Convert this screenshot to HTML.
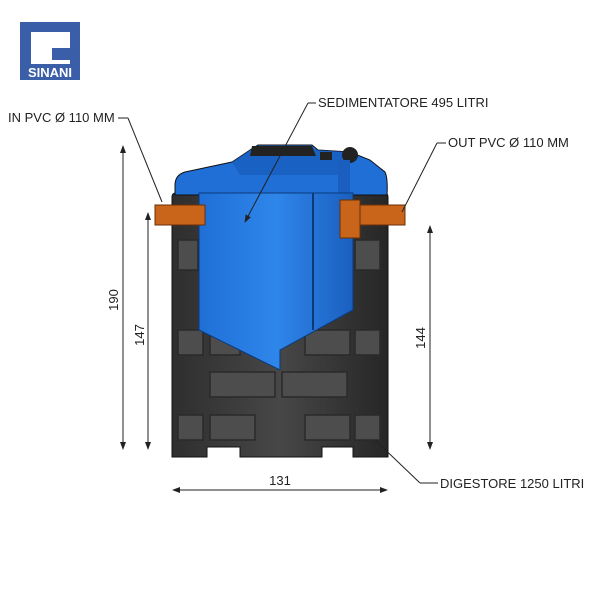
<!DOCTYPE html><html><head><style>body{margin:0;background:#fff}svg{display:block}text{font-family:"Liberation Sans",sans-serif;font-size:13px;fill:#222}</style></head><body>
<svg width="600" height="600" viewBox="0 0 600 600">
<defs>
<linearGradient id="g" x1="0" x2="1"><stop offset="0" stop-color="#2e2e2e"/><stop offset=".5" stop-color="#474747"/><stop offset="1" stop-color="#262626"/></linearGradient>
<linearGradient id="b" x1="0" x2="1"><stop offset="0" stop-color="#1f6fd6"/><stop offset=".5" stop-color="#2f86ea"/><stop offset="1" stop-color="#1a5fc0"/></linearGradient>
<marker id="a" markerWidth="8" markerHeight="8" refX="7" refY="4" orient="auto-start-reverse"><path d="M0,1 L8,4 L0,7 z" fill="#222"/></marker>
</defs>
<rect x="20" y="22" width="60" height="58" fill="#3a5ea8"/>
<path d="M31,32 H70 V48 H52 V60 H70 V64 H31 z" fill="#fff"/>
<rect x="52" y="48" width="18" height="12" fill="#3a5ea8"/>
<text x="50" y="77" text-anchor="middle" style="font-size:13px;font-weight:bold;fill:#fff">SINANI</text>
<path d="M172,197 Q172,193 176,193 H384 Q388,193 388,197 V457 H353 V447 H322 V457 H240 V447 H207 V457 H172 z" fill="url(#g)" stroke="#111"/>
<g fill="#4d4d4d" stroke="#2a2a2a" stroke-width="1.5">
<rect x="178" y="240" width="20" height="30"/><rect x="355" y="240" width="25" height="30"/>
<rect x="178" y="330" width="25" height="25"/><rect x="210" y="330" width="30" height="25"/><rect x="305" y="330" width="45" height="25"/><rect x="355" y="330" width="25" height="25"/>
<rect x="210" y="372" width="65" height="25"/><rect x="282" y="372" width="65" height="25"/>
<rect x="178" y="415" width="25" height="25"/><rect x="210" y="415" width="45" height="25"/><rect x="305" y="415" width="45" height="25"/><rect x="355" y="415" width="25" height="25"/>
</g>
<path d="M175,185 Q175,175 185,172 L232,162 L250,150 L258,145 H312 L318,150 L350,152 L370,160 L385,172 Q388,178 387,195 H175 z" fill="#1f6fd6" stroke="#111"/>
<path d="M232,162 L250,150 H318 L350,152 L340,175 H240 z" fill="#1658b5" opacity=".6"/>
<path d="M252,146 H312 L316,156 H250 z" fill="#222"/>
<rect x="320" y="152" width="12" height="8" fill="#222"/><circle cx="350" cy="155" r="8" fill="#222"/>
<rect x="338" y="160" width="12" height="40" fill="#1a5fc0"/>
<path d="M199,193 H353 V310 L280,350 V370 L199,330 z" fill="url(#b)" stroke="#0b3a7a"/>
<line x1="313" y1="193" x2="313" y2="330" stroke="#0b3a7a" stroke-width="2"/>
<rect x="155" y="205" width="50" height="20" fill="#c8651a" stroke="#6a3008"/>
<rect x="340" y="205" width="65" height="20" fill="#c8651a" stroke="#6a3008"/>
<rect x="340" y="200" width="20" height="38" fill="#c8651a" stroke="#6a3008"/>
<g stroke="#222" fill="none">
<line x1="123" y1="146" x2="123" y2="449" marker-start="url(#a)" marker-end="url(#a)"/>
<line x1="148" y1="213" x2="148" y2="449" marker-start="url(#a)" marker-end="url(#a)"/>
<line x1="430" y1="226" x2="430" y2="449" marker-start="url(#a)" marker-end="url(#a)"/>
<line x1="173" y1="490" x2="387" y2="490" marker-start="url(#a)" marker-end="url(#a)"/>
<line x1="118" y1="118" x2="128" y2="118"/><line x1="128" y1="118" x2="162" y2="202"/>
<line x1="316" y1="103" x2="308" y2="103"/><line x1="308" y1="103" x2="245" y2="222" marker-end="url(#a)"/>
<line x1="446" y1="143" x2="437" y2="143"/><line x1="437" y1="143" x2="402" y2="212"/>
<line x1="375" y1="440" x2="420" y2="483"/><line x1="420" y1="483" x2="438" y2="483"/>
</g>
<text x="8" y="122">IN PVC Ø 110 MM</text>
<text x="318" y="107">SEDIMENTATORE 495 LITRI</text>
<text x="448" y="147">OUT PVC Ø 110 MM</text>
<text x="440" y="488">DIGESTORE 1250 LITRI</text>
<text x="280" y="485" text-anchor="middle">131</text>
<text transform="translate(118,300) rotate(-90)" text-anchor="middle">190</text>
<text transform="translate(144,335) rotate(-90)" text-anchor="middle">147</text>
<text transform="translate(425,338) rotate(-90)" text-anchor="middle">144</text>
</svg></body></html>
